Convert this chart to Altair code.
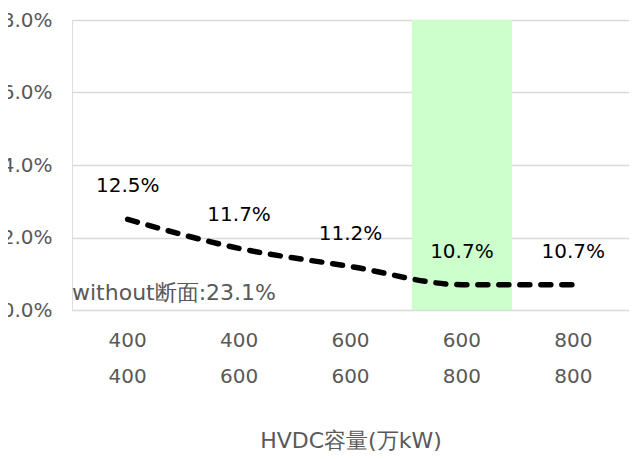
import altair as alt
import pandas as pd

# HVDC capacity cases (two lines per label)
categories = ["400\n400", "400\n600", "600\n600", "600\n800", "800\n800"]
rates = [0.125, 0.117, 0.112, 0.107, 0.107]
highlight_category = ["600\n800"]
y_ticks = [0.10, 0.12, 0.14, 0.16, 0.18]
note_text = ["without断面:23.1%"]
note_level = [0.1047]

FONT = "DejaVu Sans"
GRAY = "#595959"

df = pd.DataFrame({"case": categories, "rate": rates})
band_df = pd.DataFrame({"case": highlight_category,
                        "top": [y_ticks[-1]], "bottom": [y_ticks[0]]})
note_df = pd.DataFrame({"t": note_text, "y": note_level})

x_enc = alt.X(
    "case:N", sort=categories,
    scale=alt.Scale(paddingInner=0.1, paddingOuter=0.05),
    axis=alt.Axis(
        title="HVDC容量(万kW)",
        labelExpr="split(datum.label, '\\n')",
        labelAngle=0, labelFontSize=20, labelColor=GRAY, labelFont=FONT,
        labelPadding=30, labelLineHeight=36, labelBaseline="middle",
        ticks=False, domain=False, grid=False,
        titleFontSize=22, titleColor=GRAY, titleFont=FONT, titleFontWeight="normal",
        titleY=130, titleBaseline="middle",
    ),
)
y_scale = alt.Scale(domain=[y_ticks[0], y_ticks[-1]], nice=False)
y_axis = alt.Axis(
    format=".1%", values=y_ticks, title=None,
    labelFontSize=20, labelColor=GRAY, labelFont=FONT, labelPadding=20,
    ticks=False, domain=False, grid=True, gridColor="#D9D9D9", gridWidth=1.5,
)

band = alt.Chart(band_df).mark_bar(color="#CCFFCC").encode(
    x=x_enc,
    y=alt.Y("top:Q", scale=y_scale, axis=y_axis),
    y2="bottom:Q",
)

line = alt.Chart(df).mark_line(
    color="black", strokeWidth=5.5, strokeDash=[10, 11], strokeCap="round",
    interpolate="monotone",
).encode(x=x_enc, y=alt.Y("rate:Q", scale=y_scale, axis=y_axis))

labels = alt.Chart(df).mark_text(
    dy=-33, fontSize=20, color="black", font=FONT, baseline="middle",
).encode(
    x=x_enc, y=alt.Y("rate:Q", scale=y_scale, axis=y_axis),
    text=alt.Text("rate:Q", format=".1%"),
)

note = alt.Chart(note_df).mark_text(
    align="left", baseline="middle", fontSize=22, color=GRAY, font=FONT,
).encode(
    x=alt.value(0),
    y=alt.Y("y:Q", scale=y_scale, axis=y_axis),
    text="t:N",
)

chart = alt.layer(band, line, labels, note).properties(
    width=557, height=290,
    autosize=alt.AutoSizeParams(type="none"),
    padding={"left": 64, "top": 12, "right": 0, "bottom": 141},
).configure_view(stroke=None).configure(background="white")

chart.save("out.html", embed_options={"renderer": "svg", "actions": False})
